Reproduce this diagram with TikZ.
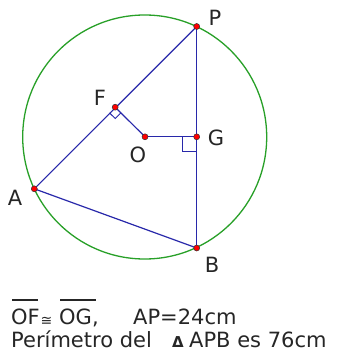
\documentclass[tikz,border=0pt]{standalone}
\usepackage{fontspec}
\setmainfont{DejaVu Sans}
\usetikzlibrary{calc}
\begin{document}
\begin{tikzpicture}[x=1pt,y=-1pt,
  seg/.style={draw=segblue,line width=1.2pt},
  pt/.style={circle,fill=red,draw=black!80,line width=0.5pt,inner sep=0pt,minimum size=6pt},
  lbl/.style={text=black!85,font=\fontsize{21}{24}\selectfont,inner sep=0pt},
  txt/.style={text=black!85,font=\fontsize{21}{24}\selectfont,inner sep=0pt,anchor=base west}]
\definecolor{segblue}{RGB}{40,40,170}
\definecolor{circgreen}{RGB}{40,160,40}
\useasboundingbox (0,0) rectangle (338,358);
\fill[white] (0,0) rectangle (338,358);
% circle
\node[circle,draw=circgreen,line width=1.3pt,minimum size=244pt,inner sep=0pt] (c) at (144.7,137) {};
% points
\coordinate (P) at (196.7,26.5);
\coordinate (F) at (115.2,107.2);
\coordinate (O) at (145,136.8);
\coordinate (G) at (196.7,136.8);
\coordinate (A) at (34.3,188.8);
\coordinate (B) at (196.7,248);
% segments
\draw[seg] (A) -- (P);
\draw[seg] (P) -- (B);
\draw[seg] (A) -- (B);
\draw[seg] (F) -- (O);
\draw[seg] (O) -- (G);
% right angles
\draw[segblue,line width=1pt] ($(F)!8pt!(A)$) -- ($($(F)!8pt!(A)$)+($(F)!8pt!(O)$)-(F)$) -- ($(F)!8pt!(O)$);
\draw[segblue,line width=1pt] ($(G)+(-14,0)$) -- ($(G)+(-14,15)$) -- ($(G)+(0,15)$);
% dots
\foreach \p in {P,F,O,G,A,B} \node[pt] (d\p) at (\p) {};
% labels
\node[lbl] (lP) at (215,18) {P};
\node[lbl] (lF) at (100,98) {F};
\node[lbl] (lG) at (216,138) {G};
\node[lbl] (lO) at (138,155) {O};
\node[lbl] (lA) at (15,198) {A};
\node[lbl] (lB) at (212,265) {B};
% text
\node[txt] (of) at (11,324) {OF};
\node[txt,font=\fontsize{14}{15}\selectfont] (cg) at (40.5,325) {≅};
\node[txt] (og) at (59,324) {OG,};
\node[txt] (ap) at (133,324) {AP=24cm};
\draw[black!85,line width=1.3pt] (12,300) -- (38,300);
\draw[black!85,line width=1.3pt] (60,300) -- (96,300);
\node[txt] (per) at (11,347) {Perímetro del};
\node[txt,font=\fontsize{15}{16}\selectfont\bfseries] (delta) at (172,347) {Δ};
\node[txt] (apb) at (189,347) {APB es 76cm};
\end{tikzpicture}
\end{document}
